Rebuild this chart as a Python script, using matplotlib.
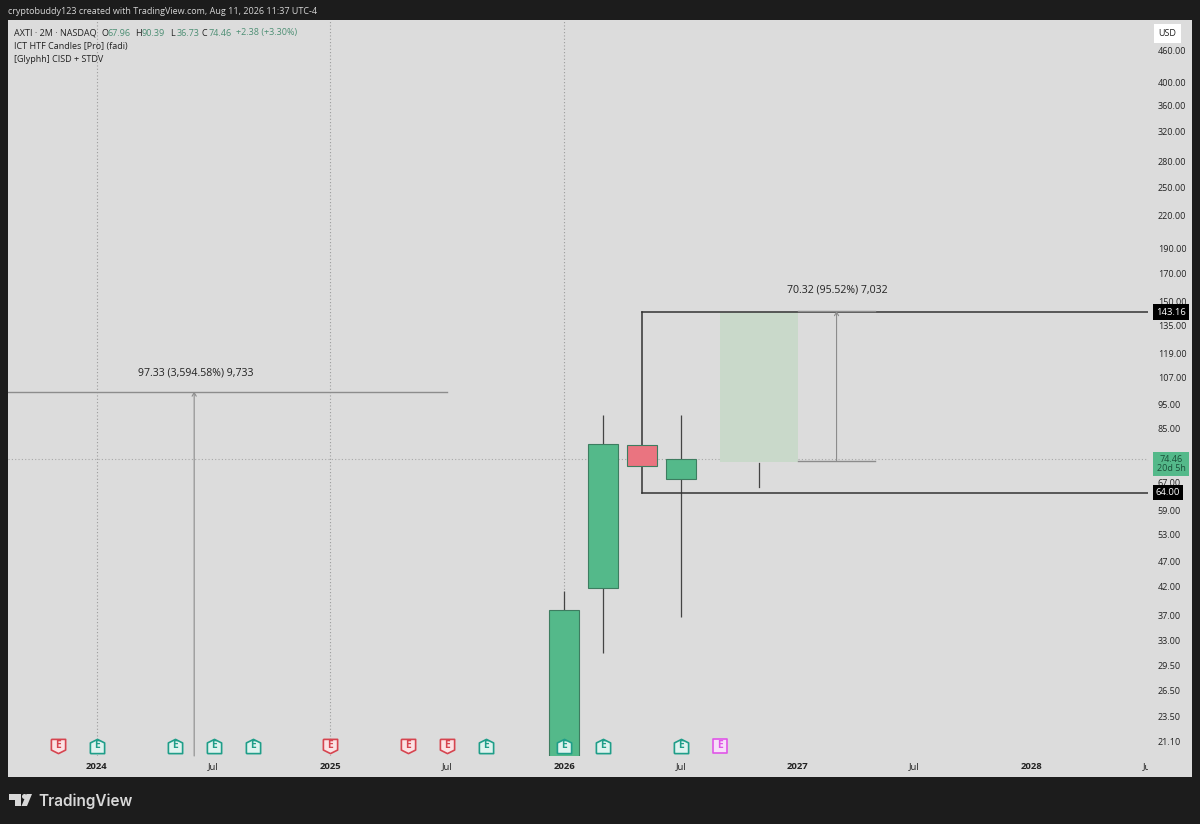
import matplotlib
matplotlib.use("Agg")
import matplotlib.pyplot as plt
from matplotlib.patches import Rectangle, Polygon, Ellipse
from matplotlib.path import Path
from matplotlib.transforms import blended_transform_factory, Bbox

# x = months since Jan 2024, candles are 2M
candle_x = [24, 26, 28, 30]
opens = [17.0, 41.7, 79.0, 67.96]
highs = [41.3, 90.4, 79.0, 90.39]
lows = [15.0, 31.2, 72.1, 36.73]
closes = [37.8, 79.6, 72.1, 74.46]
up_col = "#54b98a"
down_col = "#ea7480"
candle_cols = [up_col, up_col, down_col, up_col]

price_ticks = [460, 400, 360, 320, 280, 250, 220, 190, 170, 150, 135, 119, 107, 95, 85,
               67, 59, 53, 47, 42, 37, 33, 29.5, 26.5, 23.5, 21.1]
time_ticks = [0, 6, 12, 18, 24, 30, 36, 42, 48, 54]
time_labels = ["2024", "Jul", "2025", "Jul", "2026", "Jul", "2027", "Jul", "2028", "Jul"]
year_lines = [0, 12, 24]

earn_red = [-2, 12, 16, 18]
earn_green = [0, 4, 6, 8, 20, 24, 26, 30]
earn_pink = [32]

level_hi = 143.16
level_lo = 64.00
last_price = 74.46

proj_start, proj_end = 32, 36
proj_top, proj_bottom = 143.16, 73.2
proj_wick = [73.0, 65.7]
meas1_x = [36, 40]
meas1_top, meas1_bottom = 143.8, 73.8
meas2_end = 18
meas2_arrow = 5
meas2_top = 100.4

W, H = 1200, 824
bg = "#1c1c1c"
pane = "#dcdcdc"
txt = "#222222"

plt.rcParams["font.family"] = ["Open Sans", "DejaVu Sans"]

fig = plt.figure(figsize=(W / 100, H / 100), dpi=100, facecolor=bg)

def px_axes(x0, y0, x1, y1):
    return fig.add_axes([x0 / W, 1 - y1 / H, (x1 - x0) / W, (y1 - y0) / H])

# whole chart panel behind the plot
fig.patches.append(Rectangle((8 / W, 1 - 777 / H), 1184 / W, 757 / H, transform=fig.transFigure,
                             facecolor=pane, edgecolor="none", zorder=-1))

ax = px_axes(8, 20, 1148, 756)
ax.set_facecolor("none")
ax.set_yscale("log")
ax.set_xlim((8 - 97) / 19.5, (1148 - 97) / 19.5)
# 224 px per e-fold, 64.00 sits at y=493
ax.set_ylim(64 * 2.71828 ** ((492.5 - 756) / 224), 64 * 2.71828 ** ((492.5 - 20) / 224))
for s in ax.spines.values():
    s.set_visible(False)

ax.yaxis.tick_right()
ax.set_yticks(price_ticks)
ax.set_yticklabels([f"{p:.2f}" for p in price_ticks])
ax.minorticks_off()
ax.tick_params(axis="y", length=0, pad=7, labelsize=6.5, labelcolor=txt)
ax.set_xticks(time_ticks)
ax.set_xticklabels(time_labels)
ax.tick_params(axis="x", length=0, pad=4.5, labelsize=6.8, labelcolor=txt)
for lab, name in zip(ax.get_xticklabels(), time_labels):
    if name != "Jul":
        lab.set_fontweight("bold")
# last label gets cut by the price scale
ax.get_xticklabels()[-1].set_clip_box(Bbox.from_extents(8, 0, 1148, H))
ax.get_xticklabels()[-1].set_clip_on(True)

for xv in year_lines:
    ax.axvline(xv, color="#9c9c9c", lw=0.8, ls=(0, (1, 2)), zorder=1)
ax.axhline(last_price, color="#a8a8a8", lw=0.8, ls=(0, (1, 2)), zorder=1)

# candles
for x, o, h, l, c, col in zip(candle_x, opens, highs, lows, closes, candle_cols):
    ax.plot([x, x], [l, h], color="#444444", lw=0.9, zorder=3, solid_capstyle="butt")
    ax.add_patch(Rectangle((x - 0.77, min(o, c)), 1.54, abs(c - o), facecolor=col,
                           edgecolor="#3d7d60", lw=0.8, zorder=4))

# projected candle
ax.add_patch(Rectangle((proj_start, proj_bottom), proj_end - proj_start, proj_top - proj_bottom,
                       facecolor="#c9d9ca", edgecolor="none", zorder=2))
ax.plot([34, 34], proj_wick, color="#444444", lw=0.9, zorder=3)

# box levels
ax.plot([28, 28], [level_lo, level_hi], color="#333333", lw=1.1, zorder=3)
ax.plot([28, ax.get_xlim()[1]], [level_hi, level_hi], color="#333333", lw=1.1, zorder=3)
ax.plot([28, ax.get_xlim()[1]], [level_lo, level_lo], color="#333333", lw=1.1, zorder=3)

# measure tools
grey = "#8c8c8c"
mid = (meas1_x[0] + meas1_x[1]) / 2
ax.plot(meas1_x, [meas1_top, meas1_top], color=grey, lw=1, zorder=3)
ax.plot(meas1_x, [meas1_bottom, meas1_bottom], color=grey, lw=1, zorder=3)
ax.annotate("", xy=(mid, meas1_top), xytext=(mid, meas1_bottom), zorder=3,
            arrowprops=dict(arrowstyle="->,head_width=0.15,head_length=0.25", color=grey, lw=0.8,
                            shrinkA=0, shrinkB=0))
ax.annotate("70.32 (95.52%) 7,032", xy=(mid, meas1_top), xytext=(0.8, 11), textcoords="offset points",
            ha="center", va="bottom", fontsize=7.6, color=txt)

ax.plot([ax.get_xlim()[0], meas2_end], [meas2_top, meas2_top], color=grey, lw=1, zorder=3)
ax.annotate("", xy=(meas2_arrow, meas2_top), xytext=(meas2_arrow, ax.get_ylim()[0]), zorder=3,
            arrowprops=dict(arrowstyle="->,head_width=0.15,head_length=0.25", color=grey, lw=0.8,
                            shrinkA=0, shrinkB=0))
ax.annotate("97.33 (3,594.58%) 9,733", xy=(meas2_arrow, meas2_top), xytext=(0.8, 9.5), textcoords="offset points",
            ha="center", va="bottom", fontsize=7.6, color=txt)

# earnings flags
flag_tr = blended_transform_factory(ax.transData, ax.transAxes)
house = Path([(-1, -1), (1, -1), (1, 0.5), (0, 1), (-1, 0.5), (-1, -1)], closed=False)
shield = Path([(-1, 1), (1, 1), (1, -0.5), (0, -1), (-1, -0.5), (-1, 1)], closed=False)
for xs, marker, edge, face in [(earn_red, shield, "#d64550", "#fbe3e5"),
                               (earn_green, house, "#1f9e89", "#dff3ef"),
                               (earn_pink, "s", "#e056e8", "#f7dff9")]:
    ax.scatter(xs, [10 / 736] * len(xs), marker=marker, s=105, facecolor=face, edgecolor=edge,
               lw=1.2, transform=flag_tr, zorder=6, clip_on=False)
    for x in xs:
        ax.text(x, 10 / 736, "E", transform=flag_tr, ha="center", va="center", fontsize=7.5,
                fontweight="bold", color=edge, zorder=7)

# price scale labels
ytr = blended_transform_factory(fig.transFigure, ax.transData)

def price_label(val, s, fc, tc, x_px):
    ax.annotate(s, xy=(x_px / W, val), xycoords=ytr, ha="center", va="center", fontsize=6.8, color=tc,
                zorder=8, annotation_clip=False,
                bbox=dict(boxstyle="square,pad=0.35", fc=fc, ec="none"))

price_label(level_hi, "143.16", "#000000", "#ffffff", 1171)
price_label(level_lo, "64.00", "#000000", "#ffffff", 1168)
ax.annotate("74.46\n20d 5h", xy=(1171 / W, last_price * 0.975), xycoords=ytr, ha="center", va="center", fontsize=6.5,
            linespacing=1.0, color="#1b4f39", zorder=8, annotation_clip=False,
            bbox=dict(boxstyle="square,pad=0.35", fc=up_col, ec="none"))

# header and legend text
fig.text(8 / W, 1 - 12 / H, "cryptobuddy123 created with TradingView.com, Aug 11, 2026 11:37 UTC-4",
         color="#d6d6d6", fontsize=6.45, va="center")
fig.text(14 / W, 1 - 33 / H, "AXTI · 2M · NASDAQ", color=txt, fontsize=6.5, va="center")
ohlc = [(101, "O", "67.96"), (135, "H", "90.39"), (170, "L", "36.73"), (202, "C", "74.46")]
for px, k, v in ohlc:
    fig.text(px / W, 1 - 33 / H, k, color=txt, fontsize=6.5, va="center")
    fig.text((px + 6.5) / W, 1 - 33 / H, v, color="#4d8f74", fontsize=6.5, va="center")
fig.text(236 / W, 1 - 33 / H, "+2.38 (+3.30%)", color="#4d8f74", fontsize=6.5, va="center")
fig.text(14 / W, 1 - 46 / H, "ICT HTF Candles [Pro] (fadi)", color=txt, fontsize=6.5, va="center")
fig.text(14 / W, 1 - 59 / H, "[Glyphh] CISD + STDV", color=txt, fontsize=6.5, va="center")

# USD button
fig.patches.append(Rectangle((1154 / W, 1 - 43 / H), 27 / W, 19 / H, transform=fig.transFigure,
                             facecolor="#ffffff", edgecolor="none", zorder=5))
fig.text(1167.5 / W, 1 - 33.5 / H, "USD", color=txt, fontsize=6.5, ha="center", va="center", zorder=6)

# logo
logo = "#d8d8d8"
def logo_poly(pts):
    fig.patches.append(Polygon([(x / W, 1 - y / H) for x, y in pts], closed=True,
                               transform=fig.transFigure, facecolor=logo, edgecolor="none"))
logo_poly([(9, 794), (21, 794), (21, 806), (15, 806), (15, 799.5), (9, 799.5)])
logo_poly([(26.5, 794), (32, 794), (27, 806), (21.5, 806)])
fig.patches.append(Ellipse((24.5 / W, 1 - 796.5 / H), 5 / W, 5 / H, transform=fig.transFigure,
                           facecolor=logo, edgecolor="none"))
fig.text(38 / W, 1 - 801 / H, "TradingView", color=logo, fontsize=11, fontweight="semibold", va="center",
         family="Inter")

fig.savefig("out.png", dpi=100, facecolor=bg)
